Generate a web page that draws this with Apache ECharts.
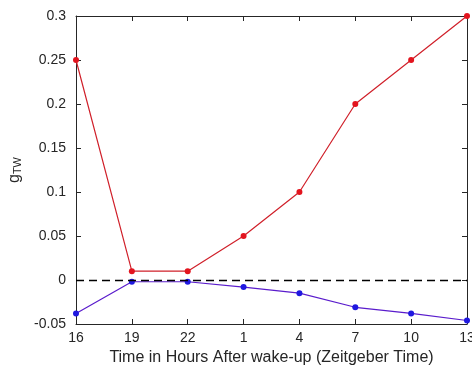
<!DOCTYPE html>
<html><head><meta charset="utf-8">
<script src="https://cdn.jsdelivr.net/npm/echarts@6/dist/echarts.min.js"></script>
<style>html,body{margin:0;padding:0;background:#fff}#c{width:472px;height:366px}</style>
</head><body><div id="c"></div>
<script>
const categories = ['16','19','22','1','4','7','10','13'];
const redValues = [0.25, 0.01, 0.01, 0.05, 0.1, 0.2, 0.25, 0.3];
const blueValues = [-0.038, -0.002, -0.002, -0.008, -0.015, -0.031, -0.038, -0.046];
const yTicks = [-0.05, 0, 0.05, 0.1, 0.15, 0.2, 0.25, 0.3];

const font = 'Liberation Sans, Arial, sans-serif';
const axisLine = {show: true, onZero: false, lineStyle: {color: '#262626', width: 1}};
const chart = echarts.init(document.getElementById('c'));
chart.setOption({
  animation: false,
  grid: {left: 76, right: 5, top: 16, bottom: 42, containLabel: false, outerBoundsMode: 'none'},
  xAxis: [{
    type: 'category', data: categories, boundaryGap: false,
    axisLine: axisLine, axisTick: {inside: true, length: 5, lineStyle: {color: '#262626'}},
    axisLabel: {color: '#262626', fontFamily: font, fontSize: 14, margin: 7},
    splitLine: {show: false},
    name: 'Time in Hours After wake-up (Zeitgeber Time)', nameLocation: 'middle', nameGap: 23,
    nameTextStyle: {color: '#262626', fontFamily: font, fontSize: 16}
  }, {
    type: 'category', data: categories, boundaryGap: false, position: 'top',
    axisLine: axisLine, axisTick: {inside: true, length: 5, lineStyle: {color: '#262626'}},
    axisLabel: {show: false}
  }],
  yAxis: [{
    type: 'value', min: -0.05, max: 0.3, interval: 0.05,
    axisLine: axisLine, axisTick: {show: true, inside: true, length: 5, lineStyle: {color: '#262626'}},
    axisLabel: {color: '#262626', fontFamily: font, fontSize: 14, margin: 10,
      formatter: v => { const m = yTicks.find(t => Math.abs(t - v) < 1e-9); return String(m !== undefined ? m : +v.toFixed(2)); }},
    splitLine: {show: false},
    name: '{a|g}{b|TW}', nameLocation: 'middle', nameGap: 50, nameRotate: 90,
    nameTextStyle: {rich: {
      a: {color: '#262626', fontFamily: font, fontSize: 16},
      b: {color: '#262626', fontFamily: font, fontSize: 11, padding: [7, 0, 0, 0]}
    }}
  }, {
    type: 'value', min: -0.05, max: 0.3, interval: 0.05, position: 'right',
    axisLine: axisLine, axisTick: {show: true, inside: true, length: 5, lineStyle: {color: '#262626'}},
    axisLabel: {show: false}, splitLine: {show: false}
  }],
  series: [{
    type: 'line', data: redValues, symbol: 'circle', symbolSize: 6,
    itemStyle: {color: '#e3141e'}, lineStyle: {color: '#d0202a', width: 1.2},
    markLine: {silent: true, symbol: 'none', label: {show: false},
      lineStyle: {color: '#000', type: [8, 5], width: 1.3},
      data: [{yAxis: 0}]}
  }, {
    type: 'line', data: blueValues, symbol: 'circle', symbolSize: 6,
    itemStyle: {color: '#1f18e0'}, lineStyle: {color: '#5a1ccc', width: 1.2}
  }]
});
</script></body></html>
